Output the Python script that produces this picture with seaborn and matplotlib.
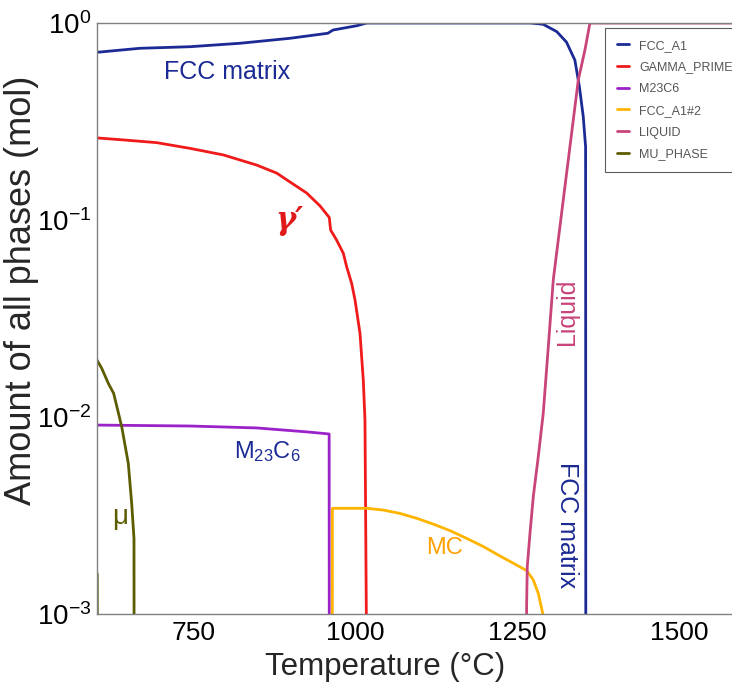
import numpy as np
import pandas as pd
import matplotlib
matplotlib.use("Agg")
import matplotlib.pyplot as plt
import seaborn as sns

# ---------------- data ----------------
phases = ["FCC_A1", "GAMMA_PRIME", "M23C6", "FCC_A1#2", "LIQUID", "MU_PHASE"]
colors = ["#1b2a94", "#f01a1a", "#9a22c8", "#ffb400", "#c8447a", "#5c5c00"]

fcc_T = [600, 666, 744, 821, 898, 957, 965, 1002, 1017, 1270, 1290, 1311, 1326, 1339, 1346, 1352, 1355.6, 1356]
fcc_v = [0.71, 0.744, 0.758, 0.789, 0.836, 0.887, 0.921, 0.969, 1.0, 1.0, 0.985, 0.904, 0.80, 0.648, 0.475, 0.334, 0.235, 1e-4]

gp_T = [600, 640.7, 692.3, 743.8, 795.3, 847, 877.9, 898.4, 924.3, 944.8, 959.2,
        961.3, 970.6, 980.9, 986, 993.8, 999, 1006.7, 1011.8, 1014.4, 1016.5, 1017]
gp_v = [0.261, 0.255, 0.247, 0.231, 0.214, 0.190, 0.173, 0.156, 0.137, 0.118, 0.103,
        0.0889, 0.079, 0.0678, 0.058, 0.0477, 0.0393, 0.0266, 0.0154, 0.00966, 0.001, 1e-4]

m23_T = [600, 744, 847, 925, 959, 959.3]
m23_v = [0.0091, 0.0090, 0.0088, 0.0084, 0.0082, 1e-4]

mc_T = [963.7, 964, 1017, 1042.7, 1068.5, 1094.4, 1120, 1145.9, 1171.7, 1197.4,
        1223.2, 1243.8, 1264.5, 1274.7, 1282.5, 1289.2, 1291]
mc_v = [1e-4, 0.00344, 0.00344, 0.00337, 0.00324, 0.00306, 0.00286, 0.00265, 0.00242, 0.00220,
        0.00197, 0.00181, 0.00166, 0.00149, 0.00127, 0.00101, 1e-4]

liq_T = [1264, 1264.4, 1265.4, 1269.6, 1274.7, 1282.4, 1290.1, 1297.9, 1305.6, 1321, 1344.3, 1354.6, 1362.3, 1600]
liq_v = [1e-4, 0.00111, 0.00174, 0.00257, 0.00394, 0.00629, 0.01044, 0.0227, 0.0496, 0.126, 0.514, 0.73, 1.0, 1.0]

mu_T = [600, 607.3, 617.5, 625.7, 631.4, 638.2, 643.3, 648.4, 651, 653.6, 657.2, 657.6]
mu_v = [0.01946, 0.01767, 0.01482, 0.01319, 0.01106, 0.00893, 0.00721, 0.00582, 0.00461, 0.00365, 0.00242, 1e-4]
mu2_T = [600.4, 600.9]
mu2_v = [0.0016, 1e-4]

xticks = [750, 1000, 1250, 1500]

# ---------------- build long table ----------------
rows = []
def add(phase, branch, T, v):
    for t, a in zip(T, v):
        rows.append({"T": t, "amount": a, "phase": phase, "branch": branch})

add("FCC_A1", "fcc", fcc_T, fcc_v)
add("GAMMA_PRIME", "gp", gp_T, gp_v)
add("M23C6", "m23", m23_T, m23_v)
add("FCC_A1#2", "mc", mc_T, mc_v)
add("LIQUID", "liq", liq_T, liq_v)
add("MU_PHASE", "mu", mu_T, mu_v)
add("MU_PHASE", "mu2", mu2_T, mu2_v)
df = pd.DataFrame(rows)

# ---------------- figure ----------------
sns.set_style("white")
plt.rcParams["font.family"] = ["Liberation Sans", "DejaVu Sans"]
plt.rcParams["mathtext.fontset"] = "custom"
plt.rcParams["mathtext.rm"] = "Liberation Sans"
plt.rcParams["mathtext.it"] = "Liberation Sans:italic"

fig = plt.figure(figsize=(7.32, 6.84), dpi=100)
ax = fig.add_axes([97 / 732, 1 - 614 / 684, 1 - 97 / 732, (614 - 23) / 684])

sns.lineplot(data=df, x="T", y="amount", hue="phase", units="branch",
             estimator=None, sort=False, hue_order=phases,
             palette=dict(zip(phases, colors)), linewidth=2.0, ax=ax)

ax.set_yscale("log")
ax.set_ylim(1e-3, 1.0)
ax.set_xlim(600, 1582)
ax.set_xticks(xticks)
ax.set_xticklabels([str(t) for t in xticks])

for s in ["left", "bottom", "top"]:
    ax.spines[s].set_color("#808080")
    ax.spines[s].set_linewidth(1.0)
ax.spines["right"].set_visible(False)

ax.tick_params(axis="both", which="both", direction="out", color="#808080",
               length=3, width=0.8, labelsize=19, pad=2, labelcolor="black")
ax.tick_params(axis="y", which="both", labelsize=20, pad=1)
ax.tick_params(axis="y", which="minor", length=2.5)

ax.set_xlabel("Temperature (°C)", fontsize=22.5)
ax.set_ylabel("Amount of all phases (mol)", fontsize=26)
ax.xaxis.set_label_coords((385 - 97) / 635, -0.065)
ax.yaxis.set_label_coords(-0.092, (614 - 290) / 591)

# annotations
ax.text(801, 0.564, "FCC matrix", color="#1b2a94", fontsize=18, ha="center", va="center")
ax.text(898, 0.1, "γ′", color="#e01a1a", fontsize=22, ha="center", va="center",
        family="DejaVu Serif", style="italic", weight="bold")
ax.text(864, 0.00664, r"M$_{23}$C$_6$", color="#1b2a94", fontsize=17, ha="center", va="center")
ax.text(636, 0.0031, "μ", color="#5c5c00", fontsize=20, ha="center", va="center")
ax.text(1138, 0.00216, "MC", color="#ffa000", fontsize=17, ha="center", va="center")
ax.text(1327, 0.0341, "Liquid", color="#c8447a", fontsize=18, ha="center", va="center", rotation=90)
ax.text(1327, 0.00283, "FCC matrix", color="#1b2a94", fontsize=18, ha="center", va="center", rotation=270)

handles, labels = ax.get_legend_handles_labels()
leg = ax.legend(handles, labels, loc="upper left", bbox_to_anchor=(0.80, 0.992),
                fontsize=9, frameon=True, fancybox=False, edgecolor="#333333",
                handlelength=1.0, handletextpad=0.8, labelspacing=0.78,
                borderpad=0.95, borderaxespad=0)
leg.get_frame().set_linewidth(0.8)
for t in leg.get_texts():
    t.set_color("#555555")
for l in leg.get_lines():
    l.set_linewidth(2.0)

fig.savefig("out.png", dpi=100)
